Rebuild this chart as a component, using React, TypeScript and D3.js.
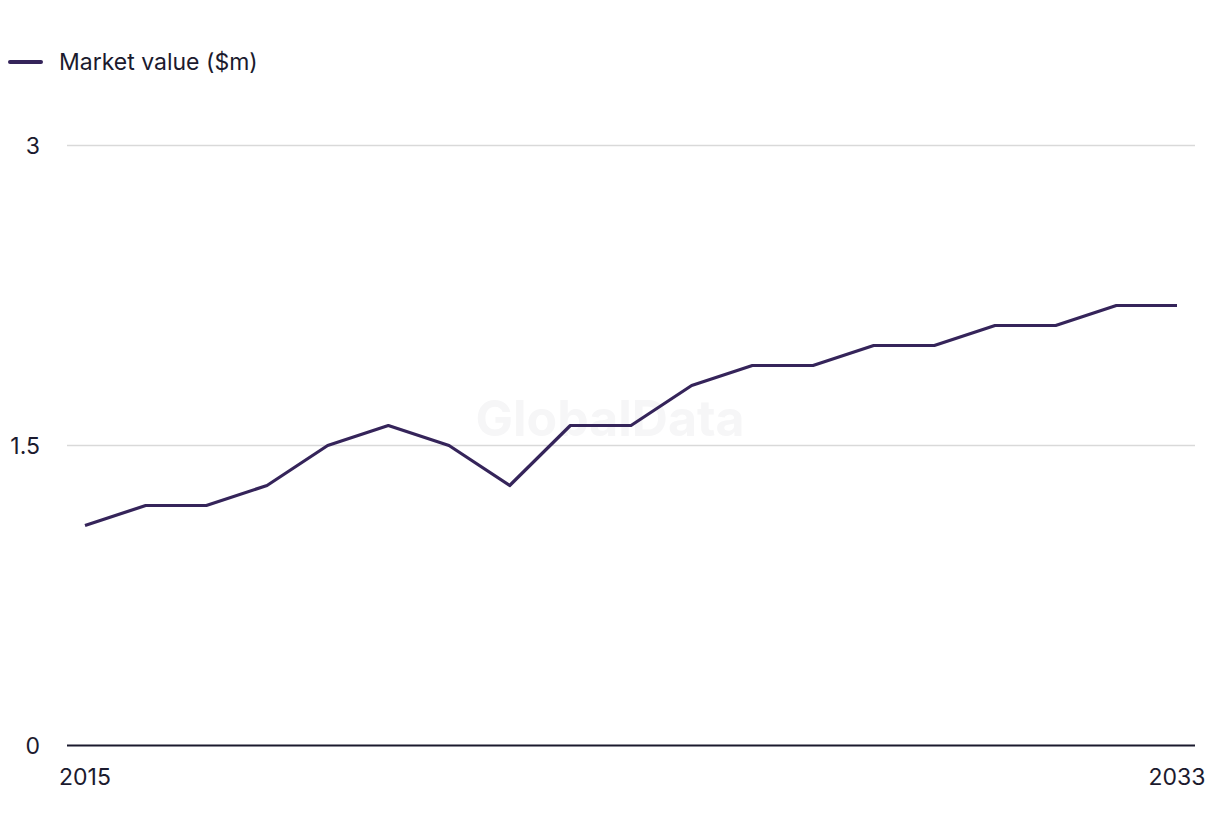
import React from "react";
import * as d3 from "d3";

const years: number[] = [2015, 2016, 2017, 2018, 2019, 2020, 2021, 2022, 2023, 2024, 2025, 2026, 2027, 2028, 2029, 2030, 2031, 2032, 2033];
const marketValue: number[] = [1.1, 1.2, 1.2, 1.3, 1.5, 1.6, 1.5, 1.3, 1.6, 1.6, 1.8, 1.9, 1.9, 2.0, 2.0, 2.1, 2.1, 2.2, 2.2];
const yTicks: number[] = [0, 1.5, 3];
const xTickLabels: number[] = [2015, 2033];
const seriesName = "Market value ($m)";

const W = 1220;
const H = 836;
const FONT = "Inter, 'Open Sans', sans-serif";

export default function App() {
  const x = d3.scaleLinear().domain([2015, 2033]).range([85, 1177]);
  const y = d3.scaleLinear().domain([0, 3]).range([745.5, 145.5]);
  const line = d3
    .line<number>()
    .x((_, i) => x(years[i]))
    .y((d) => y(d));
  const gridX1 = 67;
  const gridX2 = 1195;
  return (
    <svg width={W} height={H} style={{ position: "absolute", left: 0, top: 0, background: "#fff" }}>
      <text x={610} y={418} textAnchor="middle" dominantBaseline="central" fontFamily={FONT} fontWeight={700} fontSize={50} fill="#f6f6f7">
        GlobalData
      </text>
      {yTicks.map((t) =>
        t === 0 ? null : (
          <line key={t} x1={gridX1} x2={gridX2} y1={y(t)} y2={y(t)} stroke="#d9d9d9" strokeWidth={1.5} />
        )
      )}
      <line x1={gridX1} x2={gridX2} y1={y(0)} y2={y(0)} stroke="#1b1a2e" strokeWidth={2} />
      {yTicks.map((t) => (
        <text key={t} x={40} y={y(t)} textAnchor="end" dominantBaseline="central" fontFamily={FONT} fontSize={23} fill="#1b1a2e">
          {String(t)}
        </text>
      ))}
      {xTickLabels.map((t) => (
        <text key={t} x={x(t)} y={777} textAnchor="middle" dominantBaseline="central" fontFamily={FONT} fontSize={23} fill="#1b1a2e">
          {String(t)}
        </text>
      ))}
      <path d={line(marketValue) || ""} fill="none" stroke="#35245a" strokeWidth={3.2} strokeLinejoin="round" />
      <line x1={10} x2={41} y1={62} y2={62} stroke="#35245a" strokeWidth={4} strokeLinecap="round" />
      <text x={59} y={62} dominantBaseline="central" fontFamily={FONT} fontSize={23} fill="#1b1a2e">
        {seriesName}
      </text>
    </svg>
  );
}
